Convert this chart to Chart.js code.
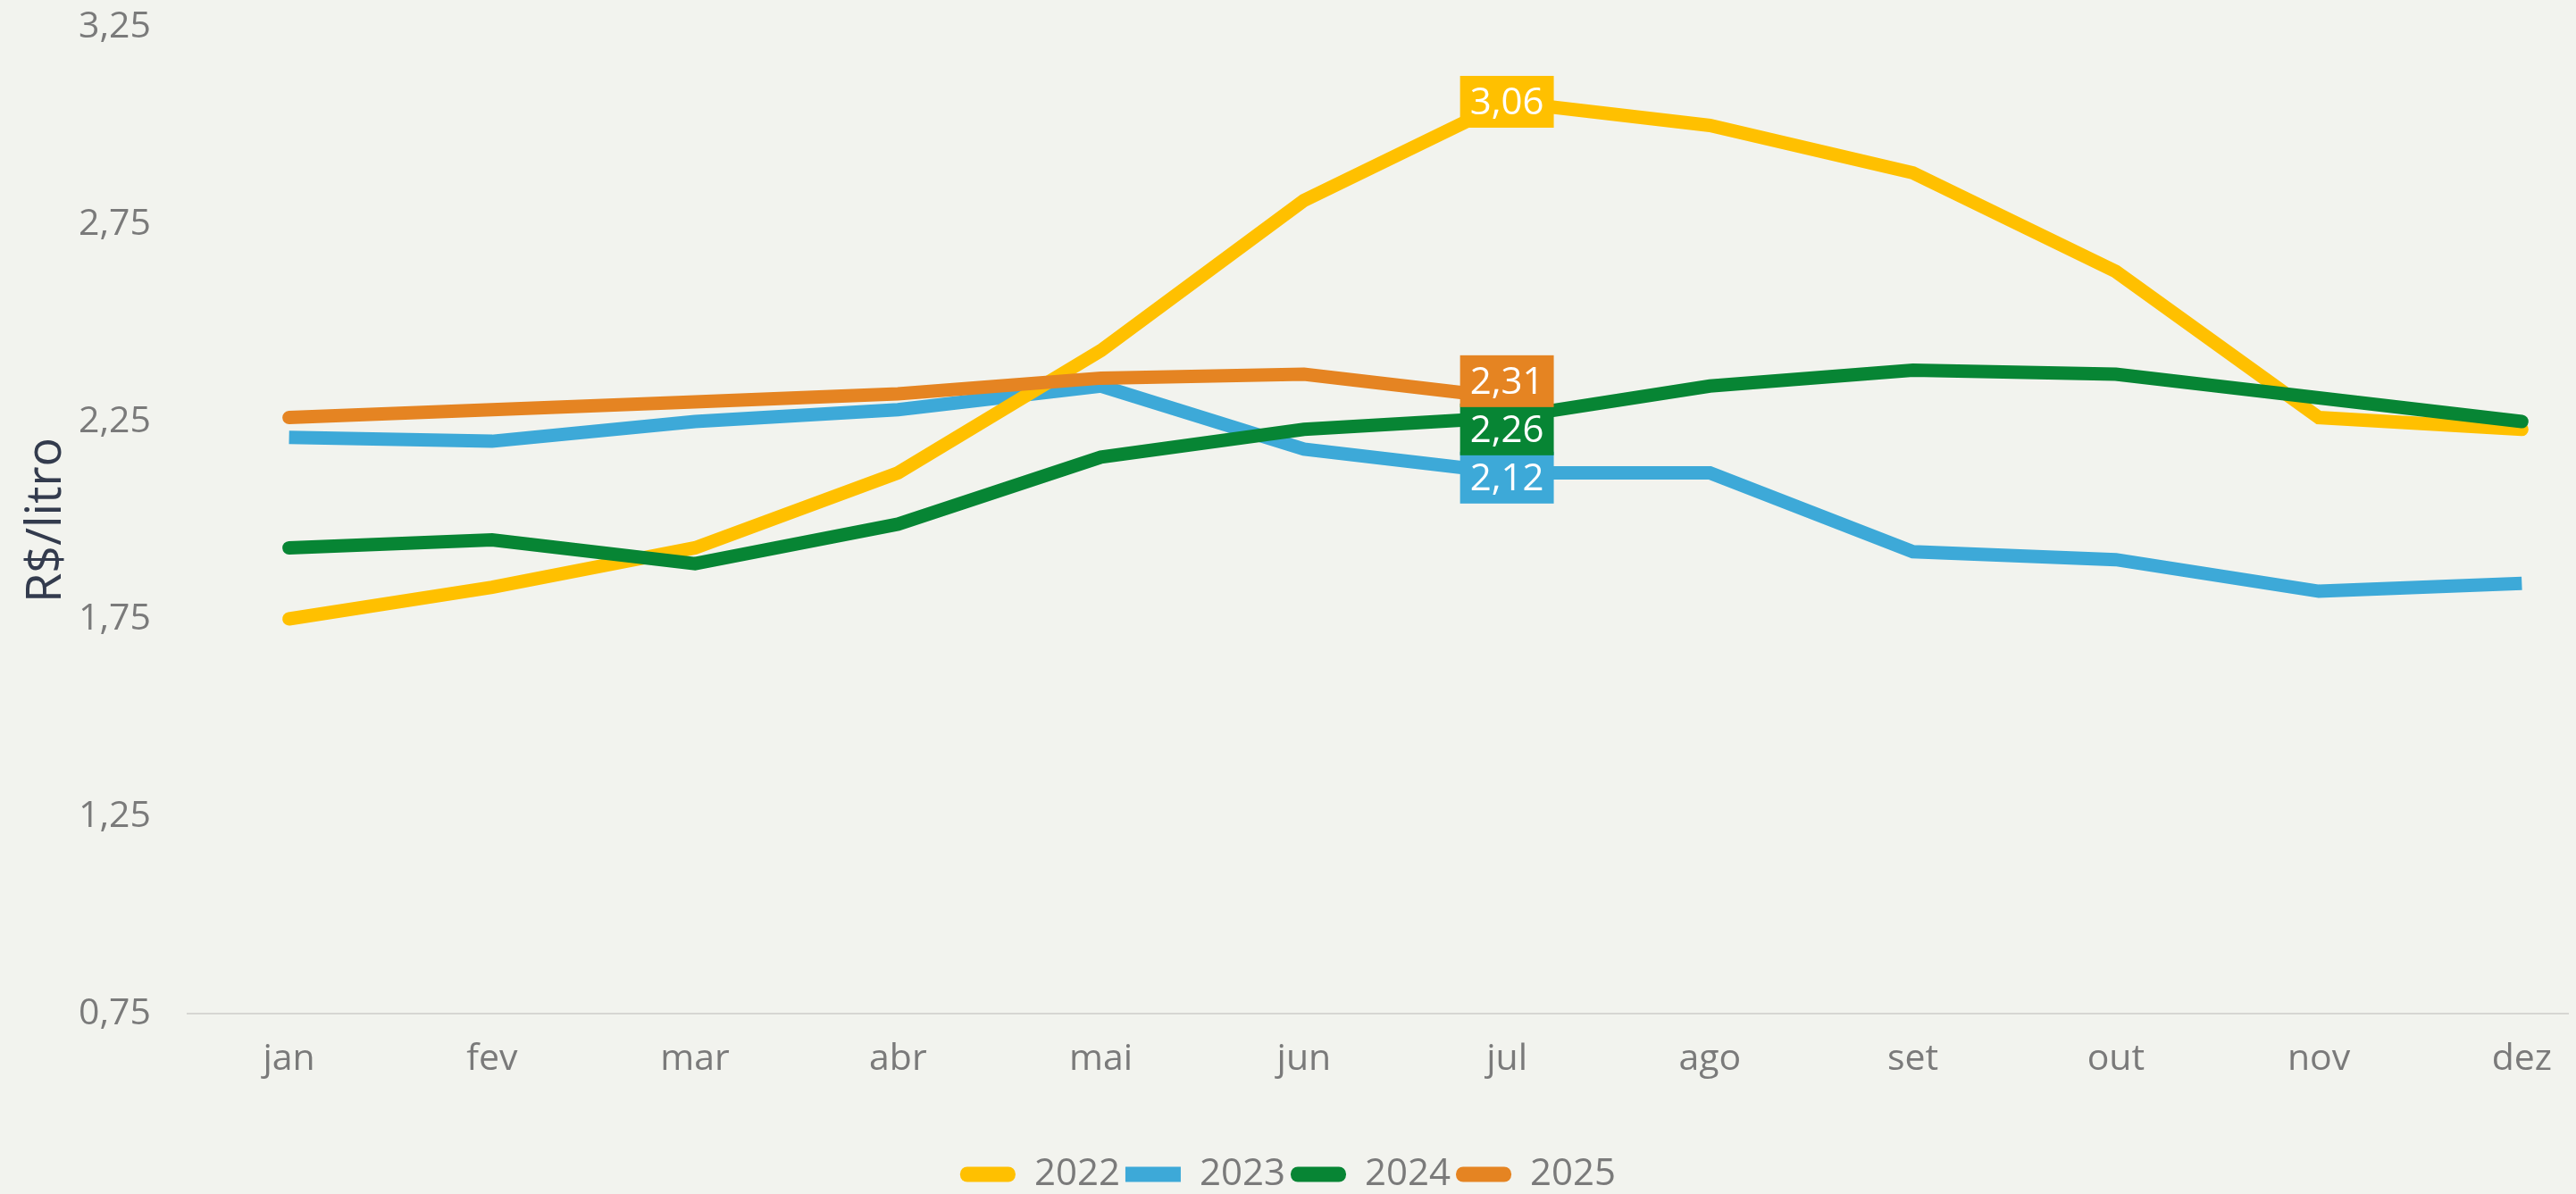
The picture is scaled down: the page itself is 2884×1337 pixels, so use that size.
<!DOCTYPE html>
<html>
<head>
    <title>Preço R$/litro</title>
    <script src="https://cdn.jsdelivr.net/npm/chart.js@4.4.1/dist/chart.umd.min.js"></script>
    <style>
        html, body {
            margin: 0;
            padding: 0;
            background: #f2f3ee;
            overflow: hidden;
        }
        .chart-container {
            position: relative;
            width: 2884px;
            height: 1337px;
        }
    </style>
</head>
<body>
    <div class="chart-container">
        <canvas id="priceChart"></canvas>
    </div>

    <script>
        // Data
        const months = ['jan', 'fev', 'mar', 'abr', 'mai', 'jun', 'jul', 'ago', 'set', 'out', 'nov', 'dez'];
        const years = ['2022', '2023', '2024', '2025'];
        const values2022 = [1.75, 1.83, 1.93, 2.12, 2.43, 2.81, 3.06, 3.00, 2.88, 2.63, 2.26, 2.23];
        const values2023 = [2.21, 2.20, 2.25, 2.28, 2.34, 2.18, 2.12, 2.12, 1.92, 1.90, 1.82, 1.84];
        const values2024 = [1.93, 1.95, 1.89, 1.99, 2.16, 2.23, 2.26, 2.34, 2.38, 2.37, 2.31, 2.25];
        const values2025 = [2.26, 2.28, 2.30, 2.32, 2.36, 2.37, 2.31];
        const yTicks = [0.75, 1.25, 1.75, 2.25, 2.75, 3.25];
        const labelMonth = 'jul';

        const colors = {
            '2022': '#ffc000',
            '2023': '#3da9d8',
            '2024': '#078534',
            '2025': '#e58422'
        };

        const fmt = v => v.toFixed(2).replace('.', ',');
        const toPoints = arr => arr.map((v, i) => ({ x: i, y: v }));

        Chart.defaults.font.family = "'Open Sans', sans-serif";

        // value boxes at one month, pushed apart when they overlap
        const valueLabels = {
            id: 'valueLabels',
            afterDatasetsDraw(chart) {
                const ctx = chart.ctx;
                const idx = months.indexOf(labelMonth);
                const boxH = 58, padX = 11, gap = 54;
                ctx.save();
                ctx.font = "42px 'Open Sans', sans-serif";
                ctx.textAlign = 'center';
                ctx.textBaseline = 'middle';

                const items = chart.data.datasets.map((ds, i) => {
                    const pt = chart.getDatasetMeta(i).data[idx];
                    return { x: pt.x, y: pt.y, cy: pt.y, text: fmt(ds.data[idx].y), color: ds.borderColor };
                });
                const sorted = [...items].sort((a, b) => a.y - b.y);
                for (let k = 0; k < 60; k++) {
                    for (let j = 0; j < sorted.length - 1; j++) {
                        const a = sorted[j], b = sorted[j + 1];
                        const d = b.cy - a.cy;
                        if (d < gap) {
                            const s = (gap - d) / 2;
                            a.cy -= s;
                            b.cy += s;
                        }
                    }
                }

                items.forEach(it => {
                    const w = ctx.measureText(it.text).width + padX * 2;
                    ctx.fillStyle = it.color;
                    ctx.fillRect(it.x - w / 2, it.cy - boxH / 2, w, boxH);
                    ctx.fillStyle = '#ffffff';
                    ctx.fillText(it.text, it.x, it.cy + 2);
                });
                ctx.restore();
            }
        };

        const seriesValues = [values2022, values2023, values2024, values2025];
        const drawOrder = { '2022': 3, '2023': 4, '2024': 2, '2025': 1 };

        const datasets = years.map((year, i) => ({
            label: year,
            data: toPoints(seriesValues[i]),
            borderColor: colors[year],
            backgroundColor: colors[year],
            borderWidth: 15,
            borderCapStyle: year === '2023' ? 'butt' : 'round',
            pointRadius: 0,
            pointHoverRadius: 0,
            tension: 0,
            fill: false,
            order: drawOrder[year]
        }));

        new Chart(document.getElementById('priceChart'), {
            type: 'line',
            data: { datasets: datasets },
            options: {
                responsive: true,
                maintainAspectRatio: false,
                animation: false,
                layout: {
                    padding: { top: 30, left: 0, right: 0, bottom: -9 }
                },
                plugins: {
                    tooltip: { enabled: false },
                    legend: {
                        position: 'bottom',
                        labels: {
                            boxWidth: 62,
                            boxHeight: 17,
                            padding: 6,
                            color: '#7a7a7a',
                            font: { size: 42 },
                            useBorderRadius: true,
                            sort: (a, b) => a.datasetIndex - b.datasetIndex,
                            generateLabels(chart) {
                                return chart.data.datasets.map((ds, i) => ({
                                    text: ds.label,
                                    fillStyle: ds.borderColor,
                                    strokeStyle: ds.borderColor,
                                    lineWidth: 0,
                                    fontColor: '#7a7a7a',
                                    borderRadius: ds.borderCapStyle === 'round' ? 8 : 0,
                                    hidden: false,
                                    datasetIndex: i
                                }));
                            }
                        }
                    }
                },
                scales: {
                    x: {
                        type: 'linear',
                        min: -0.5,
                        max: 11.23,
                        grid: { display: false, drawTicks: false },
                        border: { display: true, color: '#d6d6d2', width: 2 },
                        ticks: {
                            stepSize: 1,
                            includeBounds: false,
                            autoSkip: false,
                            maxRotation: 0,
                            padding: 27,
                            color: '#7a7a7a',
                            font: { size: 41 },
                            callback: v => months[v] || ''
                        },
                        afterFit(scale) {
                            scale.height = 153;
                        }
                    },
                    y: {
                        min: yTicks[0],
                        max: yTicks[yTicks.length - 1],
                        afterBuildTicks(scale) {
                            scale.ticks = yTicks.map(v => ({ value: v }));
                        },
                        grid: { display: false, drawTicks: false },
                        border: { display: false },
                        ticks: {
                            padding: 41,
                            color: '#7a7a7a',
                            font: { size: 41 },
                            callback: v => fmt(v)
                        },
                        title: {
                            display: true,
                            text: 'R$/litro',
                            color: '#333b4d',
                            font: { size: 54 },
                            padding: { top: 20, bottom: 0 }
                        },
                        afterFit(scale) {
                            scale.width = 210;
                            scale.paddingTop = 0;
                            scale.paddingBottom = 0;
                        }
                    }
                }
            },
            plugins: [valueLabels]
        });
    </script>
</body>
</html>
